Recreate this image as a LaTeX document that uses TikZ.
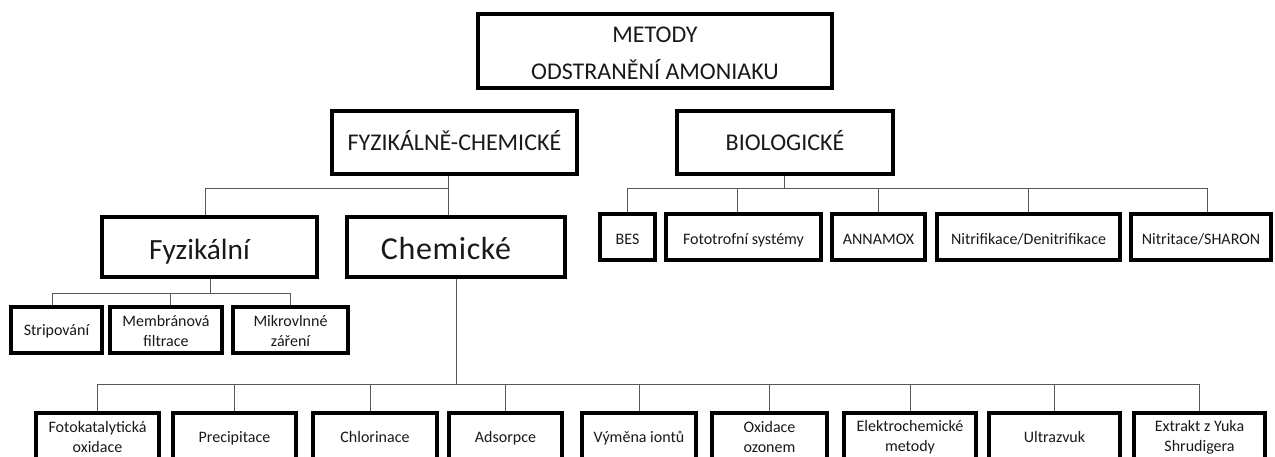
\documentclass[tikz,border=0pt]{standalone}
\usepackage{fontspec}
\setmainfont{Carlito}
\newcommand\pxu{0.75pt}
\tikzset{
  box/.style={draw=black, line width=2.6pt, fill=white, rectangle, inner sep=0pt, align=center, text=black!90},
  bigtxt/.style={font=\fontsize{18}{27.75}\selectfont},
  bigline/.style={text height=13.5pt, text depth=1.8pt},
  midtxt/.style={font=\fontsize{22}{26}\selectfont, text height=19.8pt, text depth=1.76pt},
  smalltxt/.style={font=\fontsize{12}{15}\selectfont},
  oneline/.style={text height=9pt, text depth=1.2pt},
  lowline/.style={text height=11pt, text depth=0pt},
  conn/.style={draw=black!65, line width=0.75pt},
}
\begin{document}
\begin{tikzpicture}[x=0.75pt, y=-0.75pt]
\useasboundingbox (0,0) rectangle (1275,457);
% main levels
\node[box, bigtxt, minimum width=354*\pxu, minimum height=74*\pxu] (top) at (655,51) {\rule{0pt}{15.4pt}METODY\\ODSTRANĚNÍ AMONIAKU};
\node[box, bigtxt, bigline, minimum width=245*\pxu, minimum height=63*\pxu] (fc) at (454.5,142.5) {FYZIKÁLNĚ-CHEMICKÉ};
\node[box, bigtxt, bigline, minimum width=216*\pxu, minimum height=63*\pxu] (bio) at (785,142.5) {BIOLOGICKÉ};
\node[box, midtxt, minimum width=215*\pxu, minimum height=60*\pxu] (fyz) at (209.5,247) {Fyzikální\hspace{15pt}};
\node[box, midtxt, minimum width=218*\pxu, minimum height=60*\pxu] (chem) at (456,247) {\fontsize{24}{28}\selectfont\addfontfeature{LetterSpace=2}Chemické\hspace{15pt}};
% physical children
\node[box, smalltxt, oneline, minimum width=91*\pxu, minimum height=46*\pxu] (strip) at (56.5,330) {Stripování};
\node[box, smalltxt, minimum width=112*\pxu, minimum height=46*\pxu] (memb) at (166,330) {\rule{0pt}{10.5pt}Membránová\\filtrace};
\node[box, smalltxt, minimum width=115*\pxu, minimum height=46*\pxu] (mikro) at (290.5,330) {\rule{0pt}{10.5pt}Mikrovlnné\\záření};
% biological children
\node[box, smalltxt, lowline, minimum width=55*\pxu, minimum height=46*\pxu] (bes) at (627.5,237) {BES};
\node[box, smalltxt, lowline, minimum width=155*\pxu, minimum height=46*\pxu] (foto) at (743.5,237) {Fototrofní systémy};
\node[box, smalltxt, lowline, minimum width=93*\pxu, minimum height=46*\pxu] (anna) at (878.5,237) {ANNAMOX};
\node[box, smalltxt, lowline, minimum width=183*\pxu, minimum height=46*\pxu] (nitr) at (1028.5,237) {Nitrifikace/Denitrifikace};
\node[box, smalltxt, lowline, minimum width=140*\pxu, minimum height=46*\pxu] (shar) at (1201,237) {Nitritace/SHARON};
% chemical children
\node[box, smalltxt, minimum width=123*\pxu, minimum height=48*\pxu] (c1) at (97.5,437) {Fotokatalytická\\oxidace};
\node[box, smalltxt, oneline, minimum width=123*\pxu, minimum height=48*\pxu] (c2) at (234.5,437) {Precipitace};
\node[box, smalltxt, oneline, minimum width=124*\pxu, minimum height=48*\pxu] (c3) at (375,437) {Chlorinace};
\node[box, smalltxt, oneline, minimum width=113*\pxu, minimum height=48*\pxu] (c4) at (505.5,437) {Adsorpce};
\node[box, smalltxt, oneline, minimum width=114*\pxu, minimum height=48*\pxu] (c5) at (639,437) {Výměna iontů};
\node[box, smalltxt, minimum width=115*\pxu, minimum height=48*\pxu] (c6) at (769.5,437) {Oxidace\\ozonem};
\node[box, smalltxt, minimum width=132*\pxu, minimum height=48*\pxu] (c7) at (910,437) {Elektrochemické\\metody};
\node[box, smalltxt, oneline, minimum width=131*\pxu, minimum height=48*\pxu] (c8) at (1054.5,437) {Ultrazvuk};
\node[box, smalltxt, minimum width=131*\pxu, minimum height=48*\pxu] (c9) at (1199.5,437) {Extrakt z Yuka\\Shrudigera};
% junction coordinates
\coordinate (fcj) at (448,188);
\coordinate (fyzx) at (205,0);
\coordinate (fyzj) at (210,293);
\coordinate (stx) at (52,0);
\coordinate (mbx) at (170,0);
\coordinate (chj) at (456,384);
\coordinate (c3x) at (370,0);
\coordinate (bioj) at (784,188);
\coordinate (fox) at (737,0);
\coordinate (shx) at (1207,0);
% connectors: physico-chemical
\draw[conn] (fcj |- fc.south) -- (fcj);
\draw[conn] (fcj) -| (fyzx |- fyz.north);
\draw[conn] (fcj) -- (fcj |- chem.north);
% physical
\draw[conn] (fyzj |- fyz.south) -- (fyzj);
\draw[conn] (fyzj) -| (stx |- strip.north);
\draw[conn] (fyzj) -| (mbx |- memb.north);
\draw[conn] (fyzj) -| (mikro.north);
% chemical
\draw[conn] (chj |- chem.south) -- (chj);
\draw[conn] (chj) -| (c1.north);
\draw[conn] (chj) -| (c2.north);
\draw[conn] (chj) -| (c3x |- c3.north);
\draw[conn] (chj) -| (c4.north);
\draw[conn] (chj) -| (c5.north);
\draw[conn] (chj) -| (c6.north);
\draw[conn] (chj) -| (c7.north);
\draw[conn] (chj) -| (c8.north);
\draw[conn] (chj) -| (c9.north);
% biological
\draw[conn] (bioj |- bio.south) -- (bioj);
\draw[conn] (bioj) -| (bes.north);
\draw[conn] (bioj) -| (fox |- foto.north);
\draw[conn] (bioj) -| (anna.north);
\draw[conn] (bioj) -| (nitr.north);
\draw[conn] (bioj) -| (shx |- shar.north);
\end{tikzpicture}
\end{document}
